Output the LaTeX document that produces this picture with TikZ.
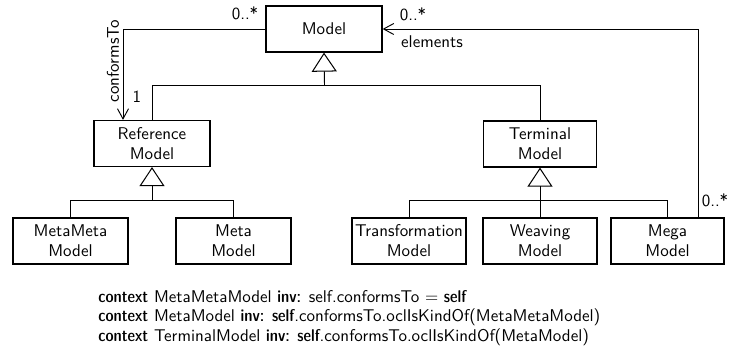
\documentclass[tikz,border=0pt]{standalone}
\usetikzlibrary{arrows.meta}
\newcommand\oclkw[1]{{\fontseries{sbc}\selectfont #1}}
\begin{document}
\begin{tikzpicture}[x=0.588pt,y=-0.588pt,
  every node/.style={font=\sffamily\fontsize{10}{12}\selectfont},
  cls/.style={draw,line width=0.75pt,minimum height=27pt,inner sep=0pt,align=center,
    font=\sffamily\fontsize{10}{11.8}\selectfont},
  lbl/.style={inner sep=0pt},
  conn/.style={line width=0.55pt},
  gen/.style={conn,-{Triangle[open,length=11.2pt,width=14.7pt,line width=0.6pt]}},
  assoc/.style={conn,-{Straight Barb[length=6pt,width=6.5pt,line width=0.55pt]}}]
\useasboundingbox (0,0) rectangle (729,349);

% classes
\node[cls,minimum width=68.2pt] (model) at (324,29) {Model};
\node[cls,minimum width=68.2pt] (ref) at (152,143.5) {Reference\\Model};
\node[cls,minimum width=66.4pt] (term) at (540,144) {Terminal\\Model};
\node[cls,minimum width=67.6pt] (mm) at (70.5,241) {MetaMeta\\Model};
\node[cls,minimum width=67.6pt] (meta) at (233.5,241) {Meta\\Model};
\node[cls,minimum width=67.0pt] (trans) at (409,241) {Transformation\\Model};
\node[cls,minimum width=67.0pt] (weav) at (540,241) {Weaving\\Model};
\node[cls,minimum width=66.4pt] (mega) at (667.5,241) {Mega\\Model};

% generalisation junctions
\coordinate (j1) at (324.5,85);
\coordinate (j2) at (152,200);
\coordinate (j3) at (540,200);

\draw[conn] (ref.north) -- (ref.north |- j1) -- (term.north |- j1) -- (term.north);
\draw[gen] (j1) -- (model.south);

\draw[conn] (mm.north) -- (mm.north |- j2) -- (meta.north |- j2) -- (meta.north);
\draw[gen] (j2) -- (ref.south);

\draw[conn] (trans.north) -- (trans.north |- j3) -- (mega.north |- j3) -- (mega.north);
\draw[conn] (weav.north) -- (j3);
\draw[gen] (j3) -- (term.south);

% associations
\coordinate (cx) at (123,0);
\coordinate (ex) at (698,0);
\draw[assoc] (model.west) -| (ref.north -| cx);
\draw[assoc] (mega.north -| ex) |- (model.east);

% association labels
\node[lbl] (m1) at (245,13) {0..*};
\node[lbl,rotate=90] (ct) at (113,61) {conformsTo};
\node[lbl] (one) at (137,97) {1};
\node[lbl] (m2) at (413,14) {0..*};
\node[lbl] (el) at (432,42) {elements};
\node[lbl] (m3) at (715,200) {0..*};

% constraints
\node[lbl,anchor=west,align=left,font=\sffamily\fontsize{10}{11.5}\selectfont] (ocl) at (98,318)
 {\oclkw{context} MetaMetaModel \oclkw{inv:} self.conformsTo $=$ \oclkw{self}\\
  \oclkw{context} MetaModel \oclkw{inv:} \oclkw{self}.conformsTo.oclIsKindOf(MetaMetaModel)\\
  \oclkw{context} TerminalModel \oclkw{inv:} \oclkw{self}.conformsTo.oclIsKindOf(MetaModel)};
\end{tikzpicture}
\end{document}
